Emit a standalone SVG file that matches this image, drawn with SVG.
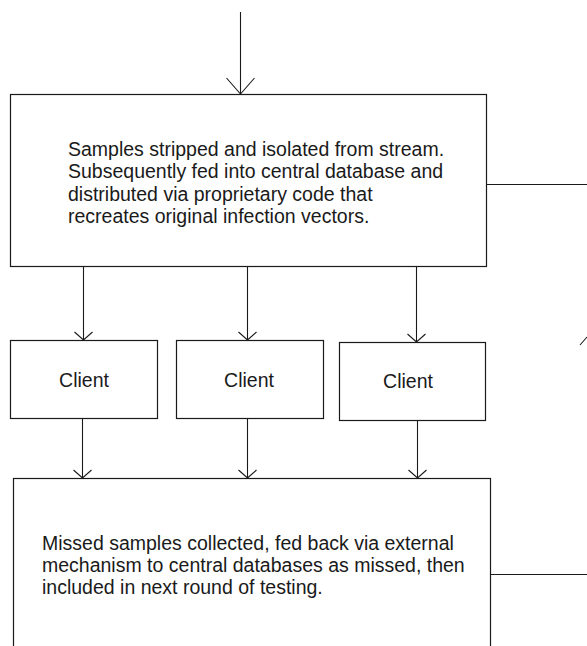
<svg xmlns="http://www.w3.org/2000/svg" width="587" height="646" viewBox="0 0 587 646">
<style>
.box{fill:#fff;stroke:#1a1a1a;stroke-width:1.2}
.conn{fill:none;stroke:#1a1a1a;stroke-width:1.1}
.lbl{font-family:"Liberation Sans",Arial,sans-serif;font-size:19.5px;fill:#1a1a1a}
</style>
<defs>
<marker id="arrS" markerUnits="userSpaceOnUse" markerWidth="20" markerHeight="24" viewBox="-10 -12 20 24" refX="0" refY="0" orient="auto">
<path d="M-8,-9 L0,0 L-8,9" fill="none" stroke="#1a1a1a" stroke-width="1.1"/>
</marker>
<marker id="arrL" markerUnits="userSpaceOnUse" markerWidth="36" markerHeight="32" viewBox="-18 -16 36 32" refX="0" refY="0" orient="auto">
<path d="M-16,-14 L0,0 L-16,14" fill="none" stroke="#1a1a1a" stroke-width="1.1"/>
</marker>
</defs>
<rect width="587" height="646" fill="#fff"/>
<g id="connectors">
<line class="conn" x1="240.5" y1="12" x2="240.5" y2="94" marker-end="url(#arrL)"/>
<line class="conn" x1="487" y1="184.5" x2="587" y2="184.5"/>
<line class="conn" x1="83.5" y1="267" x2="83.5" y2="340" marker-end="url(#arrS)"/>
<line class="conn" x1="247.5" y1="267" x2="247.5" y2="340" marker-end="url(#arrS)"/>
<line class="conn" x1="416.5" y1="267" x2="416.5" y2="342" marker-end="url(#arrS)"/>
<line class="conn" x1="580" y1="345" x2="587" y2="337"/>
<line class="conn" x1="82.5" y1="418" x2="82.5" y2="478" marker-end="url(#arrS)"/>
<line class="conn" x1="247.5" y1="418" x2="247.5" y2="478" marker-end="url(#arrS)"/>
<line class="conn" x1="417.5" y1="420" x2="417.5" y2="478" marker-end="url(#arrS)"/>
<line class="conn" x1="491" y1="574.5" x2="587" y2="574.5"/>
</g>
<g id="node-source">
<rect class="box" x="10.5" y="94.5" width="476" height="172"/>
<text class="lbl" x="68" y="155.5">Samples stripped and isolated from stream.</text>
<text class="lbl" x="68" y="178">Subsequently fed into central database and</text>
<text class="lbl" x="68" y="200.5">distributed via proprietary code that</text>
<text class="lbl" x="68" y="223">recreates original infection vectors.</text>
</g>
<g id="node-client1">
<rect class="box" x="10.5" y="340.5" width="147" height="78"/>
<text class="lbl" x="84" y="387" text-anchor="middle">Client</text>
</g>
<g id="node-client2">
<rect class="box" x="176.5" y="340.5" width="147" height="78"/>
<text class="lbl" x="249" y="387" text-anchor="middle">Client</text>
</g>
<g id="node-client3">
<rect class="box" x="339.5" y="342.5" width="146" height="78"/>
<text class="lbl" x="408" y="388" text-anchor="middle">Client</text>
</g>
<g id="node-missed">
<rect class="box" x="13.5" y="478.5" width="477" height="220"/>
<text class="lbl" x="42" y="550">Missed samples collected, fed back via external</text>
<text class="lbl" x="42" y="572">mechanism to central databases as missed, then</text>
<text class="lbl" x="42" y="593.5">included in next round of testing.</text>
</g>
</svg>
